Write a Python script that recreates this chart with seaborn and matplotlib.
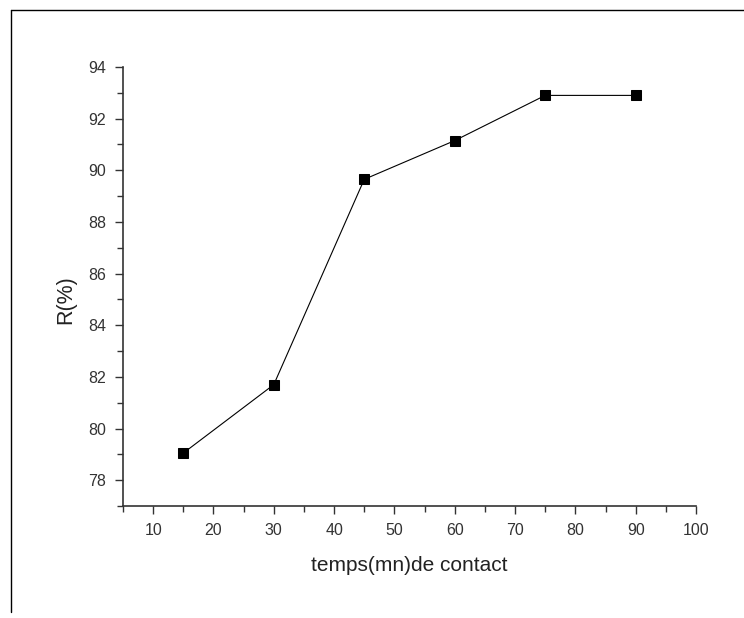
import pandas as pd
import matplotlib
matplotlib.use('Agg')
import matplotlib.pyplot as plt
import seaborn as sns
from matplotlib.lines import Line2D
from matplotlib.ticker import MultipleLocator

# data
temps = [15, 30, 45, 60, 75, 90]
rendement = [79.05, 81.7, 89.65, 91.15, 92.9, 92.9]

df = pd.DataFrame({'temps': temps, 'R': rendement})

sns.set_style('ticks')
plt.rcParams['font.family'] = ['Liberation Sans', 'DejaVu Sans']

fig = plt.figure(figsize=(7.44, 6.18), dpi=100)
ax = fig.add_axes([0.1653, 0.1812, 0.7702, 0.7104])

sns.lineplot(data=df, x='temps', y='R', ax=ax, color='black', linewidth=0.8,
             marker='s', markersize=7, markeredgecolor='black', markerfacecolor='black')

ax.set_xlim(5, 100)
ax.set_ylim(77, 94)
ax.set_xticks(range(10, 101, 10))
ax.set_yticks(range(78, 95, 2))
ax.xaxis.set_minor_locator(MultipleLocator(5))
ax.yaxis.set_minor_locator(MultipleLocator(1))

for side in ['left', 'bottom']:
    ax.spines[side].set_color('#333333')
    ax.spines[side].set_linewidth(1.2)
sns.despine(ax=ax)

ax.tick_params(which='major', length=6, width=1, color='#333333', labelsize=11.5, labelcolor='#333333', pad=6)
ax.tick_params(which='minor', length=4, width=1, color='#333333')

ax.set_xlabel('temps(mn)de contact', fontsize=15, color='#222222', labelpad=13)
ax.set_ylabel('R(%)', fontsize=15.5, color='#222222')
ax.yaxis.set_label_coords(-0.082, 0.469)

# partial frame around the figure
fig.add_artist(Line2D([11 / 744, 1], [1 - 10 / 618, 1 - 10 / 618], transform=fig.transFigure, color='black', linewidth=1))
fig.add_artist(Line2D([11 / 744, 11 / 744], [1 - 10 / 618, 1 - 612 / 618], transform=fig.transFigure, color='black', linewidth=1))

fig.savefig('out.png', dpi=100)
